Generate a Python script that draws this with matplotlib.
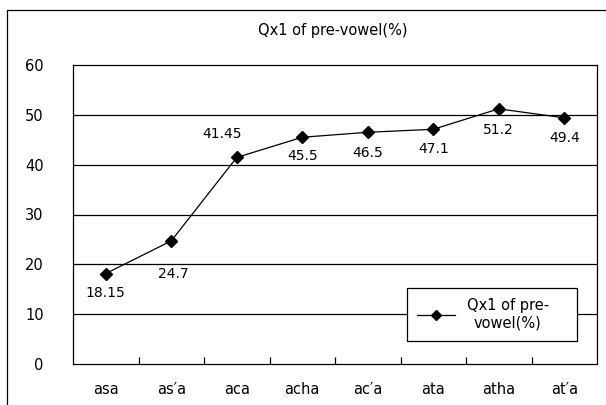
import matplotlib
matplotlib.use("Agg")
import matplotlib.pyplot as plt
from matplotlib.patches import Rectangle

categories = ["asa", "as\u2032a", "aca", "acha", "ac\u2032a", "ata", "atha", "at\u2032a"]
values = [18.15, 24.7, 41.45, 45.5, 46.5, 47.1, 51.2, 49.4]
value_labels = ["18.15", "24.7", "41.45", "45.5", "46.5", "47.1", "51.2", "49.4"]
y_ticks = [0, 10, 20, 30, 40, 50, 60]
series_name = "Qx1 of pre-\nvowel(%)"
title = "Qx1 of pre-vowel(%)"

# label offsets in pixels (dx, dy) relative to each point
label_offsets = [(0, -19), (2, -33), (-15, 23), (0, -19),
                 (0, -21), (0, -20), (0, -21), (0, -20)]

plt.rcParams['font.family'] = ['DejaVu Sans']
fig = plt.figure(figsize=(6.06, 4.05), dpi=100)
fig.patch.set_facecolor('white')

# outer chart border (only top and left visible in the reference)
fig.add_artist(Rectangle((7 / 606, -0.05), 1.0, 1 - 10 / 405 + 0.05,
                         transform=fig.transFigure, fill=False,
                         edgecolor='black', lw=0.9))

ax = fig.add_axes([73 / 606, 1 - 364 / 405, (597 - 73) / 606, (364 - 65) / 405])
x = list(range(len(categories)))

for yv in y_ticks[1:-1]:
    ax.axhline(yv, color='black', lw=0.9, zorder=1)

ax.plot(x, values, color='black', lw=0.9, marker='D', markersize=6,
        markerfacecolor='black', markeredgecolor='black', zorder=3,
        label=series_name)

for xi, v, lab, (dx, dy) in zip(x, values, value_labels, label_offsets):
    ax.annotate(lab, (xi, v), xytext=(dx, dy), textcoords='offset pixels',
                ha='center', va='center', fontsize=10)

ax.set_xlim(-0.5, len(categories) - 0.5)
ax.set_ylim(0, 60)
ax.set_yticks(y_ticks)
ax.tick_params(axis='y', length=0, pad=21, labelsize=10.5)
ax.set_xticks([i + 0.5 for i in x[:-1]])
ax.set_xticklabels([])
ax.set_xticks(x, minor=True)
ax.set_xticklabels(categories, minor=True, fontsize=10.5)
ax.tick_params(axis='x', which='major', direction='in', length=5, width=0.9)
ax.tick_params(axis='x', which='minor', length=0, pad=13)
for s in ax.spines.values():
    s.set_color('black')
    s.set_linewidth(0.9)

fig.text(333 / 606, 1 - 31 / 405, title, ha='center', va='center', fontsize=10.5)

leg = ax.legend(loc='lower left', bbox_to_anchor=((407 - 73) / 524, (364 - 341) / 299,
                                                  (577 - 407) / 524, (341 - 284) / 299),
                mode='expand', fancybox=False, frameon=True, framealpha=1,
                edgecolor='black', fontsize=10.5, handlelength=2.6,
                borderaxespad=0, borderpad=0.7, markerscale=0.85)
leg.get_frame().set_linewidth(0.9)
for t in leg.get_texts():
    t.set_ha('center')
    t.set_multialignment('center')

fig.savefig("out.png", dpi=100, facecolor='white')
